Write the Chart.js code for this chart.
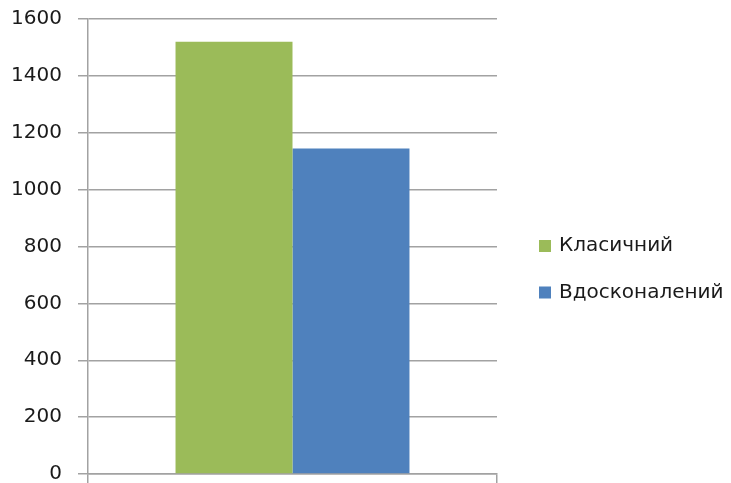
<!DOCTYPE html>
<html>
<head>
<meta charset="utf-8">
<script src="https://cdn.jsdelivr.net/npm/chart.js@4/dist/chart.umd.min.js"></script>
<style>
    html, body { margin: 0; padding: 0; background: #fff; }
    #wrap { width: 731px; height: 483px; position: relative; }
</style>
</head>
<body>
<div id="wrap"><canvas id="chart"></canvas></div>
<script>
// Data
const categories = [''];
const seriesNames = ['Класичний', 'Вдосконалений'];
const classicValues = [1520];
const improvedValues = [1145];
const yTicks = [0, 200, 400, 600, 800, 1000, 1200, 1400, 1600];

const COLORS = ['#9BBB59', '#4F81BD'];
const GRID = '#a2a2a2';
const FONT = 'DejaVu Sans';

// Legend on the right, drawn from the datasets themselves
const sideLegend = {
    id: 'sideLegend',
    afterDraw(chart) {
        const ctx = chart.ctx;
        const x = 539, y0 = 246, gap = 46.5, box = 12;
        ctx.save();
        ctx.font = `20px "${FONT}"`;
        ctx.textBaseline = 'middle';
        ctx.textAlign = 'left';
        chart.data.datasets.forEach((ds, i) => {
            const y = y0 + i * gap;
            ctx.fillStyle = ds.backgroundColor;
            ctx.fillRect(x, y - box / 2, box, box);
            ctx.fillStyle = '#1a1a1a';
            ctx.fillText(ds.label, x + box + 8, y);
        });
        ctx.restore();
    }
};

new Chart(document.getElementById('chart'), {
    type: 'bar',
    data: {
        labels: categories,
        datasets: [
            { label: seriesNames[0], data: classicValues, backgroundColor: COLORS[0] },
            { label: seriesNames[1], data: improvedValues, backgroundColor: COLORS[1] },
        ],
    },
    options: {
        responsive: true, maintainAspectRatio: false,
        animation: false,
        layout: { padding: { left: 11, top: 0, right: 234, bottom: 0 } },
        datasets: { bar: { categoryPercentage: 0.572, barPercentage: 1 } },
        plugins: {
            legend: { display: false },
            tooltip: { enabled: false },
        },
        scales: {
            x: {
                grid: { drawOnChartArea: false, drawTicks: true, tickLength: 9, color: GRID, lineWidth: 1.5 },
                border: { display: true, color: GRID, width: 1.5 },
                ticks: { display: false },
            },
            y: {
                min: 0, max: 1600,
                afterBuildTicks: axis => { axis.ticks = yTicks.map(v => ({ value: v })); },
                afterFit: axis => {
                    axis.width = 77;
                    axis.paddingTop = 19;
                    axis.paddingBottom = 0;
                },
                grid: { color: GRID, tickLength: 10, lineWidth: 1.5 },
                border: { display: true, color: GRID, width: 1.5 },
                ticks: {
                    padding: 16, color: '#1a1a1a', font: { family: FONT, size: 20 },
                    callback: v => String(v),
                },
            },
        },
    },
    plugins: [sideLegend],
});
</script>
</body>
</html>
